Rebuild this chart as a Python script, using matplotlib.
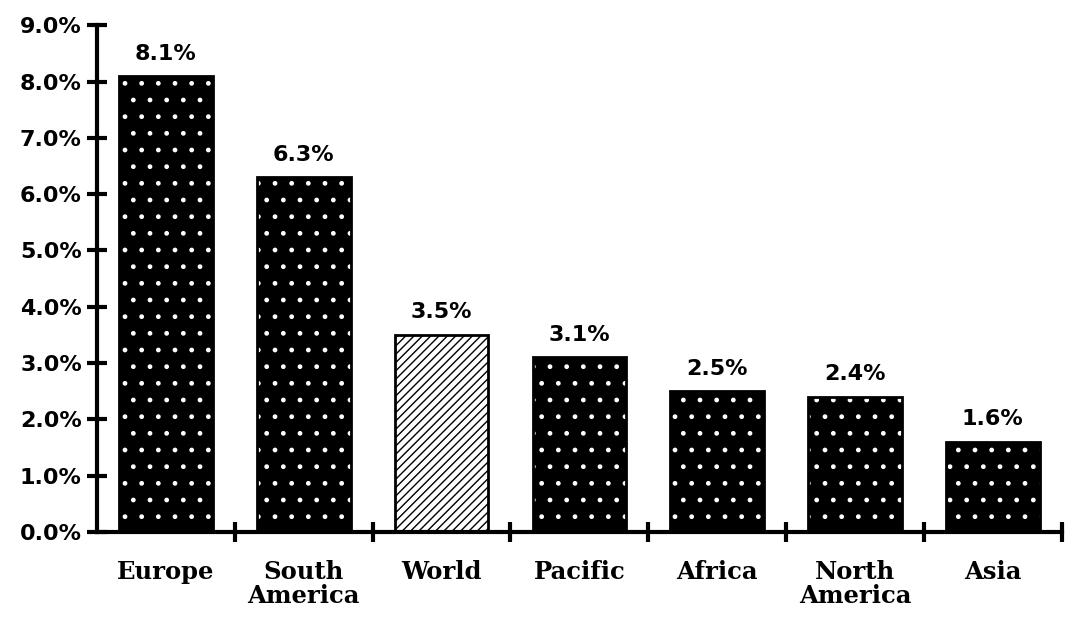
import matplotlib.pyplot as plt
import numpy as np

plt.rcParams.update({"font.family": "DejaVu Sans", "hatch.linewidth": 1.0})

regions = ["Europe", "South\nAmerica", "World", "Pacific", "Africa", "North\nAmerica", "Asia"]
growth = [8.1, 6.3, 3.5, 3.1, 2.5, 2.4, 1.6]
value_labels = ["8.1%", "6.3%", "3.5%", "3.1%", "2.5%", "2.4%", "1.6%"]
yticks = np.arange(0, 10, 1)

fig = plt.figure(figsize=(10.67, 6.31), dpi=100)
ax = fig.add_axes([0.091, 0.157, 0.904, 0.803])

x = np.arange(len(regions))
for i, v in enumerate(growth):
    if regions[i] == "World":
        ax.bar(x[i], v, width=0.68, color="white", edgecolor="black", hatch="////", linewidth=2)
    else:
        # dark speckled fill, like the scanned original
        ax.bar(x[i], v, width=0.68, color="black", edgecolor="white", hatch=".", linewidth=0)
        ax.bar(x[i], v, width=0.68, color="none", edgecolor="black", linewidth=2)
    ax.text(x[i], v + 0.22, value_labels[i], ha="center", va="bottom",
            fontsize=16, fontweight="bold")

ax.set_xlim(-0.5, len(regions) - 0.5)
ax.set_ylim(0, 9)
ax.set_yticks(yticks)
ax.set_yticklabels([f"{t:.1f}%" for t in yticks], fontsize=16, fontweight="bold")
ax.set_xticks(x + 0.5)
ax.set_xticklabels([])
ax.set_xticks(x, minor=True)
ax.set_xticklabels(regions, minor=True, fontsize=17.5, fontweight="bold", family="DejaVu Serif",
                   linespacing=1.0)
ax.tick_params(axis="x", which="minor", length=0, pad=20)
ax.tick_params(axis="both", which="major", direction="inout", length=14, width=3)
ax.tick_params(axis="y", pad=4)

for s in ["top", "right"]:
    ax.spines[s].set_visible(False)
for s in ["left", "bottom"]:
    ax.spines[s].set_linewidth(3)

fig.savefig("out.png", dpi=100)
